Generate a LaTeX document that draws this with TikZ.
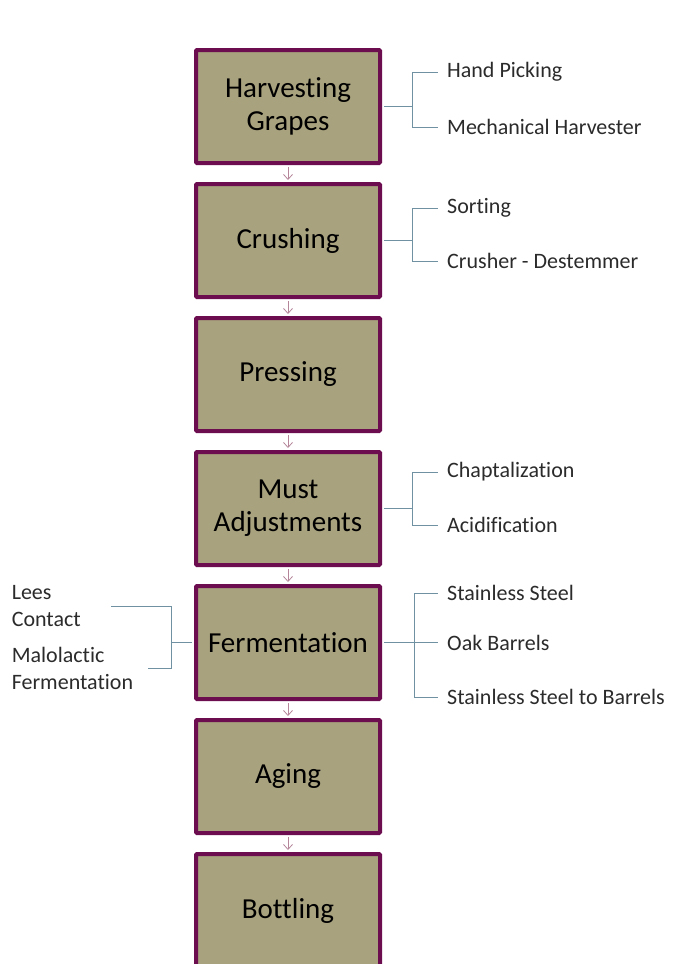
\documentclass[tikz,border=0pt]{standalone}
\usepackage{fontspec}
\setmainfont{Carlito}[Ligatures=NoCommon]
\usepackage{tikz}
\usetikzlibrary{arrows.meta}
\definecolor{WineBorder}{HTML}{6B0D4E}
\definecolor{WineFill}{HTML}{A8A27E}
\definecolor{WineArrow}{HTML}{B5869A}
\definecolor{WineBranch}{HTML}{7091A2}
\definecolor{WineText}{HTML}{2B2B2B}
\tikzset{
    % Process step box
    stepbox/.style={
        draw=WineBorder,
        fill=WineFill,
        line width=4pt,
        rounded corners=1pt,
        minimum width=184pt,
        minimum height=113pt,
        align=center,
        text=black,
        font=\fontsize{29}{33}\selectfont
    },
    % Option label on the right
    optlabel/.style={
        anchor=west,
        inner xsep=9pt,
        inner ysep=0pt,
        text=WineText,
        font=\fontsize{22}{27}\selectfont
    },
    % Option label on the left
    leftlabel/.style={
        anchor=east,
        inner sep=0pt,
        align=left,
        text=WineText,
        font=\fontsize{22}{27}\selectfont
    },
    % Arrow between steps
    myarrow/.style={
        -{Straight Barb[length=5pt,width=9pt]},
        line width=0.8pt,
        draw=WineArrow,
        shorten <=2pt,
        shorten >=2pt
    },
    % Bracket lines to options
    branch/.style={
        line width=0.9pt,
        draw=WineBranch
    }
}
\begin{document}
\begin{tikzpicture}[x=1pt,y=-1pt]
    \clip (0,0) rectangle (676,964);
    \useasboundingbox (0,0) rectangle (676,964);
    % process steps
    \node[stepbox] (harvest) at (288,106.5) {Harvesting\\Grapes};
    \node[stepbox] (crush) at (288,240.5) {Crushing};
    \node[stepbox] (press) at (288,374.5) {Pressing};
    \node[stepbox] (must) at (288,508.5) {Must\\Adjustments};
    \node[stepbox] (ferm) at (288,642.5) {Fermentation};
    \node[stepbox] (aging) at (288,776.5) {Aging};
    \node[stepbox] (bottle) at (288,910.5) {Bottling};

    \draw[myarrow] (harvest) -- (crush);
    \draw[myarrow] (crush) -- (press);
    \draw[myarrow] (press) -- (must);
    \draw[myarrow] (must) -- (ferm);
    \draw[myarrow] (ferm) -- (aging);
    \draw[myarrow] (aging) -- (bottle);

    % options
    \node[optlabel] (hand) at (438,72) {Hand Picking};
    \node[optlabel] (mech) at (438,127) {Mechanical Harvester};
    \node[optlabel] (sort) at (438,208) {Sorting};
    \node[optlabel] (destem) at (438,261) {Crusher - Destemmer};
    \node[optlabel] (chapt) at (438,472) {Chaptalization};
    \node[optlabel] (acid) at (438,525) {Acidification};
    \node[optlabel] (steel) at (438,593) {Stainless Steel};
    \node[optlabel] (oak) at (438,642.5) {Oak Barrels};
    \node[optlabel] (tobarrel) at (438,697) {Stainless Steel to Barrels};
    \node[leftlabel, text width=99pt] (lees) at (111,606) {Lees\\Contact};
    \node[leftlabel, text width=136pt] (malo) at (148,668) {Malolactic\\Fermentation};

    \draw[branch] ([xshift=2pt]harvest.east) -- ++(28,0) |- (hand.west);
    \draw[branch] ([xshift=2pt]harvest.east) -- ++(28,0) |- (mech.west);
    \draw[branch] ([xshift=2pt]crush.east) -- ++(28,0) |- (sort.west);
    \draw[branch] ([xshift=2pt]crush.east) -- ++(28,0) |- (destem.west);
    \draw[branch] ([xshift=2pt]must.east) -- ++(28,0) |- (chapt.west);
    \draw[branch] ([xshift=2pt]must.east) -- ++(28,0) |- (acid.west);
    \draw[branch] ([xshift=2pt]ferm.east) -- ++(30,0) |- (steel.west);
    \draw[branch] ([xshift=2pt]ferm.east) -- (oak.west);
    \draw[branch] ([xshift=2pt]ferm.east) -- ++(30,0) |- (tobarrel.west);
    \draw[branch] ([xshift=-2pt]ferm.west) -- ++(-21,0) |- (lees.east);
    \draw[branch] ([xshift=-2pt]ferm.west) -- ++(-21,0) |- (malo.east);
\end{tikzpicture}
\end{document}
